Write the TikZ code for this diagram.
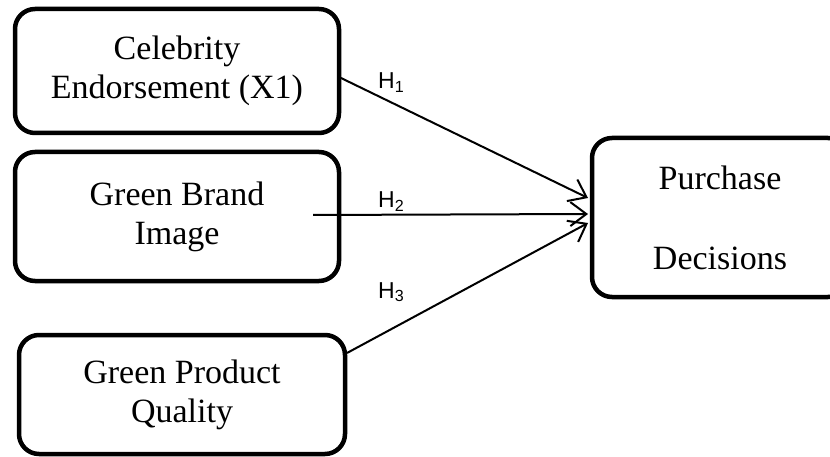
\documentclass[tikz,border=0pt]{standalone}
\usepackage{fontspec}
\setmainfont{Liberation Serif}
\newfontfamily\labfont{Liberation Sans}
\usetikzlibrary{arrows.meta,calc}
\tikzset{
  varbox/.style={draw, line width=4.5pt, rounded corners=20pt, align=center,
    inner sep=0pt, outer sep=0pt,
    font=\fontsize{34}{39}\selectfont},
  hyparrow/.style={line width=2pt, -{Straight Barb[length=16pt,width=24pt,line width=2pt]}},
  hyplabel/.style={anchor=base west, inner sep=0pt, font=\labfont\fontsize{23}{26}\selectfont}
}
\begin{document}
\begin{tikzpicture}[x=1pt,y=-1pt]
\useasboundingbox (0,0) rectangle (830,457);
\node[varbox, minimum width=324pt, minimum height=124pt] (b1) at (177,71) {Celebrity\\Endorsement (X1)};
\node[varbox, minimum width=324pt, minimum height=129pt] (b2) at (177,216.5) {Green Brand\\Image};
\node[varbox, minimum width=326pt, minimum height=119pt] (b3) at (182,394.5) {Green Product\\Quality};
\node[varbox, minimum width=256pt, minimum height=159pt, font=\fontsize{34}{80}\selectfont] (b4) at (720,217.5) {Purchase\\Decisions};
\draw[hyparrow] ($(b1.east)+(2,7)$) -- ($(b4.west)+(-4,-19.5)$);
\draw[hyparrow] ($(b2.east)+(-26,-1.5)$) -- ($(b4.west)+(-4,-3.5)$);
\draw[hyparrow] ($(b3.east)+(2,-41.5)$) -- ($(b4.west)+(-4,5.5)$);
\node[hyplabel] (h1) at (378,89) {H\textsubscript{1}};
\node[hyplabel] (h2) at (378,208) {H\textsubscript{2}};
\node[hyplabel] (h3) at (378,298) {H\textsubscript{3}};
\end{tikzpicture}
\end{document}
